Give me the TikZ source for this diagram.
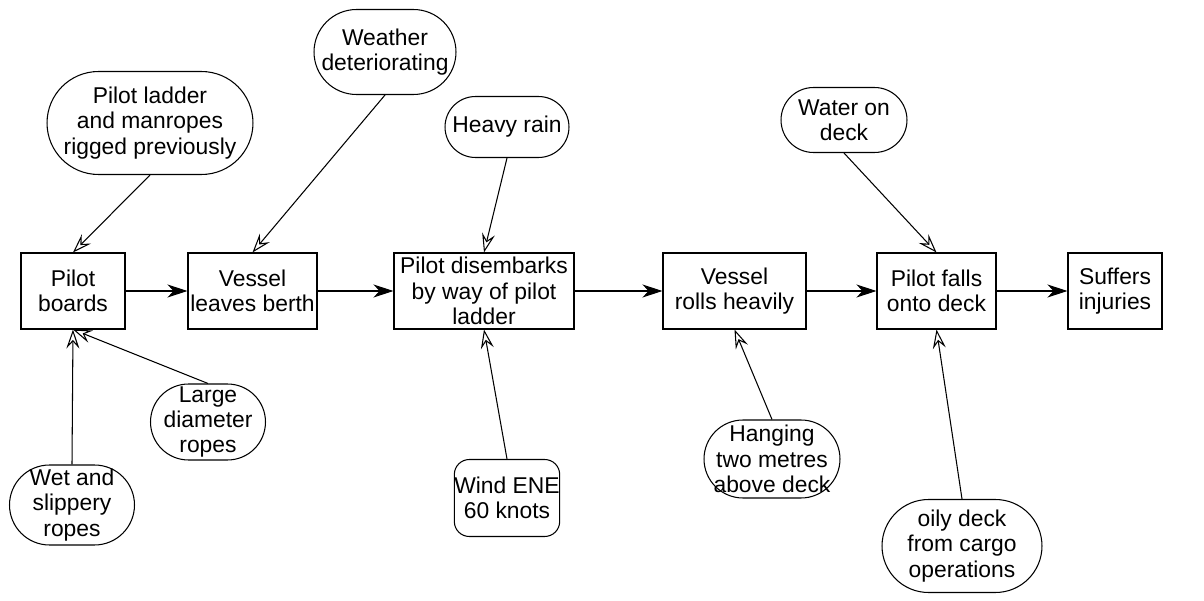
\documentclass[tikz,border=0pt]{standalone}
\usepackage{fontspec}
\setmainfont{Liberation Sans}
\usetikzlibrary{arrows.meta}
\tikzset{
  stepbox/.style={draw, rectangle, inner sep=0pt, minimum height=1.52cm, align=center},
  cause/.style={draw, rectangle, inner sep=0pt, align=center},
  flow/.style={-{Stealth[length=0.4cm,width=0.26cm,inset=0.12cm]}},
  infl/.style={-{Stealth[open,length=0.38cm,width=0.26cm,inset=0.14cm]}},
}
\begin{document}
\begin{tikzpicture}[x=0.02cm, y=-0.02cm, line width=0.6pt, font=\fontsize{13}{14.4}\selectfont]
  \useasboundingbox (0,0) rectangle (1204,601);
  % main chain
  \node[stepbox, minimum width=2.08cm] (boards) at (73,291) {Pilot\\boards};
  \node[stepbox, minimum width=2.58cm] (berth) at (252.5,291) {Vessel\\leaves berth};
  \node[stepbox, minimum width=3.6cm] (disembark) at (484,291) {Pilot disembarks\\by way of pilot\\ladder};
  \node[stepbox, minimum width=2.86cm] (rolls) at (734.5,291) {Vessel\\rolls heavily};
  \node[stepbox, minimum width=2.38cm] (falls) at (936.5,291) {Pilot falls\\onto deck};
  \node[stepbox, minimum width=1.88cm] (injuries) at (1115,291) {Suffers\\injuries};
  % causes above
  \node[cause, minimum width=4.12cm, minimum height=2.06cm, rounded corners=1.03cm] (rigged) at (150,123) {Pilot ladder\\and manropes\\rigged previously};
  \node[cause, minimum width=2.84cm, minimum height=1.7cm, rounded corners=0.85cm] (weather) at (385,52) {Weather\\deteriorating};
  \node[cause, minimum width=2.48cm, minimum height=1.22cm, rounded corners=0.61cm] (rain) at (507,127) {Heavy rain};
  \node[cause, minimum width=2.52cm, minimum height=1.3cm, rounded corners=0.65cm] (water) at (844,120) {Water on\\deck};
  % causes below
  \node[cause, minimum width=2.3cm, minimum height=1.52cm, rounded corners=0.76cm] (large) at (208,422) {Large\\diameter\\ropes};
  \node[cause, minimum width=2.5cm, minimum height=1.6cm, rounded corners=0.8cm] (wet) at (72,505) {Wet and\\slippery\\ropes};
  \node[cause, minimum width=1.96cm, minimum height=1.54cm, rounded corners=0.3cm] (wind) at (507,498) {Wind ENE\\60 knots};
  \node[cause, minimum width=2.72cm, minimum height=1.56cm, rounded corners=0.78cm] (hanging) at (772,459) {Hanging\\two metres\\above deck};
  \node[cause, minimum width=3.2cm, minimum height=1.86cm, rounded corners=0.93cm] (oily) at (962,546) {oily deck\\from cargo\\operations};
  % sequence
  \draw[flow] (boards) -- (berth);
  \draw[flow] (berth) -- (disembark);
  \draw[flow] (disembark) -- (rolls);
  \draw[flow] (rolls) -- (falls);
  \draw[flow] (falls) -- (injuries);
  % influences
  \draw[infl] (rigged.south) -- (boards.north);
  \draw[infl] (weather.south) -- (berth.north);
  \draw[infl] (rain.south) -- (disembark.north);
  \draw[infl] (water.south) -- (falls.north);
  \draw[infl] (large.north) -- (boards.south);
  \draw[infl] (wet.north) -- (boards.south);
  \draw[infl] (wind.north) -- (disembark.south);
  \draw[infl] (hanging.north) -- (rolls.south);
  \draw[infl] (oily.north) -- (falls.south);
\end{tikzpicture}
\end{document}
